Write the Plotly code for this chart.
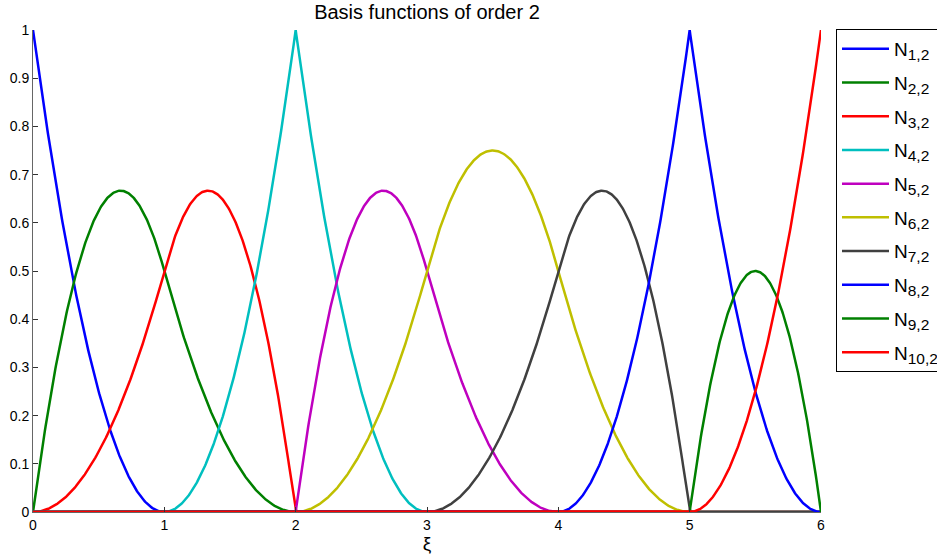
import numpy as np
import plotly.graph_objects as go

# Knot vector (order 2 B-spline basis)
knots = [0, 0, 0, 1, 2, 2, 3, 4, 5, 5, 6, 6, 6]
order = 2
labels = ["1,2", "2,2", "3,2", "4,2", "5,2", "6,2", "7,2", "8,2", "9,2", "10,2"]
names = ["N<sub><span style='font-size:15.5px'>%s</span></sub>" % s for s in labels]
colors = ["#0000ff", "#008000", "#ff0000", "#00bfbf", "#bf00bf",
          "#bfbf00", "#404040", "#0000ff", "#008000", "#ff0000"]
xticks = [0, 1, 2, 3, 4, 5, 6]
yticks = [round(0.1 * i, 1) for i in range(11)]

xi = np.linspace(0, 6, 1201)

def basis(i, p, x):
    t = knots
    if p == 0:
        if t[i] < t[i + 1]:
            if t[i + 1] == t[-1]:
                return ((x >= t[i]) & (x <= t[i + 1])).astype(float)
            return ((x >= t[i]) & (x < t[i + 1])).astype(float)
        return np.zeros_like(x)
    out = np.zeros_like(x)
    d1 = t[i + p] - t[i]
    if d1 > 0:
        out += (x - t[i]) / d1 * basis(i, p - 1, x)
    d2 = t[i + p + 1] - t[i + 1]
    if d2 > 0:
        out += (t[i + p + 1] - x) / d2 * basis(i + 1, p - 1, x)
    return out

fig = go.Figure()
for k in range(len(knots) - order - 1):
    fig.add_trace(go.Scatter(x=xi, y=basis(k, order, xi), mode="lines",
                             name=names[k], legendgroup="g%d" % k,
                             line=dict(color=colors[k], width=2.5)))

fig.update_layout(
    width=937, height=557,
    margin=dict(l=33, r=116, t=30, b=45, autoexpand=False),
    paper_bgcolor="white", plot_bgcolor="white",
    font=dict(family="Liberation Sans, Arial, sans-serif", color="black", size=14),
    title=dict(text="Basis functions of order 2", x=0.5, xref="paper", xanchor="center",
               y=0.978, yanchor="middle", font=dict(size=20)),
    xaxis=dict(range=[0, 6], tickvals=xticks, ticks="inside", ticklen=5, tickcolor="#333",
               showgrid=False, zeroline=False, showline=True, linecolor="#666", linewidth=1,
               title=dict(text="ξ", font=dict(size=19), standoff=0), tickfont=dict(size=14)),
    yaxis=dict(range=[0, 1], tickvals=yticks, ticks="inside", ticklen=5, tickcolor="#333",
               showgrid=False, zeroline=False, showline=True, linecolor="#666", linewidth=1,
               tickfont=dict(size=14)),
    legend=dict(x=836 / 937, y=1 - 29 / 557, xref="container", yref="container",
                xanchor="left", yanchor="top",
                bordercolor="black", borderwidth=1, bgcolor="white",
                font=dict(size=19), tracegroupgap=6, itemwidth=47, maxheight=500),
    showlegend=True,
)

fig.write_html("out.html")
